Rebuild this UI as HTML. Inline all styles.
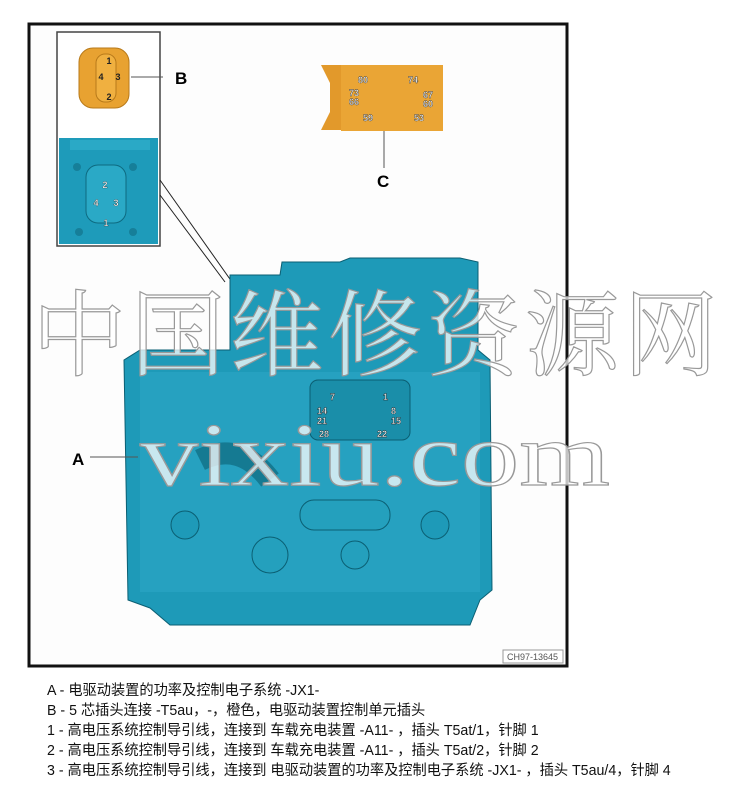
<!DOCTYPE html>
<html><head><meta charset="utf-8"><style>
html,body{margin:0;padding:0;background:#fff;width:747px;height:793px;overflow:hidden}
.t{position:absolute;left:47px;font:14.5px "Liberation Sans","Noto Sans CJK SC",sans-serif;color:#111;white-space:nowrap;transform:scaleX(0.98);transform-origin:left}
</style></head><body>
<svg width="747" height="793" style="position:absolute;left:0;top:0" font-family="Liberation Sans, Noto Sans CJK SC, sans-serif">
<rect x="29" y="24" width="538" height="642" fill="#fdfdfd" stroke="#111" stroke-width="3"/>
<rect x="57" y="32" width="103" height="214" fill="#fff" stroke="#444" stroke-width="1.5"/>
<line x1="160" y1="180" x2="232" y2="282" stroke="#222"/>
<line x1="160" y1="195" x2="225" y2="282" stroke="#222"/>
<rect x="79" y="48" width="50" height="60" rx="14" fill="#e8a231" stroke="#b87a1a"/>
<rect x="96" y="54" width="20" height="48" rx="9" fill="#f0b040" stroke="#b87a1a"/>
<g font-size="9" font-weight="bold" fill="#222" text-anchor="middle"><text x="109" y="64">1</text><text x="101" y="80">4</text><text x="118" y="80">3</text><text x="109" y="100">2</text></g>
<line x1="131" y1="77" x2="163" y2="77" stroke="#555"/>
<text x="175" y="84" font-size="17" font-weight="bold">B</text>
<rect x="59" y="138" width="99" height="106" fill="#1e9bba"/>
<rect x="70" y="140" width="80" height="10" fill="#2aa9c6"/>
<rect x="86" y="165" width="40" height="58" rx="12" fill="#2aa9c6" stroke="#0d6a80"/>
<g font-size="9" font-weight="bold" fill="#fff" text-anchor="middle" stroke="#222" stroke-width="0.3"><text x="105" y="188">2</text><text x="96" y="206">4</text><text x="116" y="206">3</text><text x="106" y="226">1</text></g>
<circle cx="77" cy="167" r="4" fill="#167f99"/><circle cx="133" cy="167" r="4" fill="#167f99"/><circle cx="79" cy="232" r="4" fill="#167f99"/><circle cx="133" cy="232" r="4" fill="#167f99"/>
<path d="M321 65 L342 65 L342 130 L321 130 L330 112 L330 83 Z" fill="#e2992b"/>
<rect x="341" y="65" width="102" height="66" fill="#eaa535"/>
<g font-size="9" font-weight="bold" fill="#fff" stroke="#333" stroke-width="0.4"><text x="358" y="83">80</text><text x="408" y="83">74</text><text x="349" y="96">73</text><text x="349" y="105">66</text><text x="423" y="98">67</text><text x="423" y="107">60</text><text x="363" y="121">59</text><text x="414" y="121">53</text></g>
<line x1="384" y1="131" x2="384" y2="168" stroke="#555"/>
<text x="377" y="187" font-size="17" font-weight="bold">C</text>
<path d="M230 275 L280 275 L282 262 L340 262 L350 258 L460 258 L478 262 L478 350 L490 360 L492 590 L480 600 L470 625 L170 625 L150 608 L128 600 L124 360 L140 350 L230 350 Z" fill="#1e9ab8" stroke="#0b5f73"/>
<rect x="140" y="372" width="340" height="220" fill="#2ba7c4" opacity=".6"/>
<rect x="310" y="380" width="100" height="60" rx="8" fill="#1a8ea9" stroke="#0b5f73"/>
<g font-size="9" font-weight="bold" fill="#fff" stroke="#222" stroke-width="0.4"><text x="330" y="400">7</text><text x="383" y="400">1</text><text x="317" y="414">14</text><text x="391" y="414">8</text><text x="317" y="424">21</text><text x="391" y="424">15</text><text x="319" y="437">28</text><text x="377" y="437">22</text></g>
<path d="M200 460 Q240 440 270 480" stroke="#157a92" stroke-width="22" fill="none"/>
<rect x="300" y="500" width="90" height="30" rx="14" fill="#24a0bd" stroke="#0b5f73"/>
<circle cx="185" cy="525" r="14" fill="#1e9ab8" stroke="#0b5f73"/><circle cx="435" cy="525" r="14" fill="#1e9ab8" stroke="#0b5f73"/>
<circle cx="270" cy="555" r="18" fill="#24a0bd" stroke="#0b5f73"/><circle cx="355" cy="555" r="14" fill="#24a0bd" stroke="#0b5f73"/>
<line x1="90" y1="457" x2="138" y2="457" stroke="#555"/>
<text x="72" y="465" font-size="17" font-weight="bold">A</text>
<text x="32" y="368" font-size="94" fill="#fff" fill-opacity=".75" stroke="#999" stroke-width="1.2" font-family="Liberation Serif, Noto Serif CJK SC, serif" letter-spacing="4" textLength="690" lengthAdjust="spacingAndGlyphs">中国维修资源网</text>
<text x="140" y="485" font-size="90" fill="#fff" fill-opacity=".75" stroke="#999" stroke-width="1.2" font-family="Liberation Serif, serif" textLength="470" lengthAdjust="spacingAndGlyphs">vixiu.com</text>
<rect x="503" y="650" width="60" height="13" fill="#fff" stroke="#999"/>
<text x="507" y="660" font-size="9" fill="#555">CH97-13645</text>
</svg>
<div class="t" style="top:679px">A - 电驱动装置的功率及控制电子系统 -JX1-</div>
<div class="t" style="top:699px">B - 5 芯插头连接 -T5au，-，橙色，电驱动装置控制单元插头</div>
<div class="t" style="top:719px">1 - 高电压系统控制导引线，连接到 车载充电装置 -A11- ，插头 T5at/1，针脚 1</div>
<div class="t" style="top:739px">2 - 高电压系统控制导引线，连接到 车载充电装置 -A11- ，插头 T5at/2，针脚 2</div>
<div class="t" style="top:759px">3 - 高电压系统控制导引线，连接到 电驱动装置的功率及控制电子系统 -JX1- ，插头 T5au/4，针脚 4</div>
</body></html>
